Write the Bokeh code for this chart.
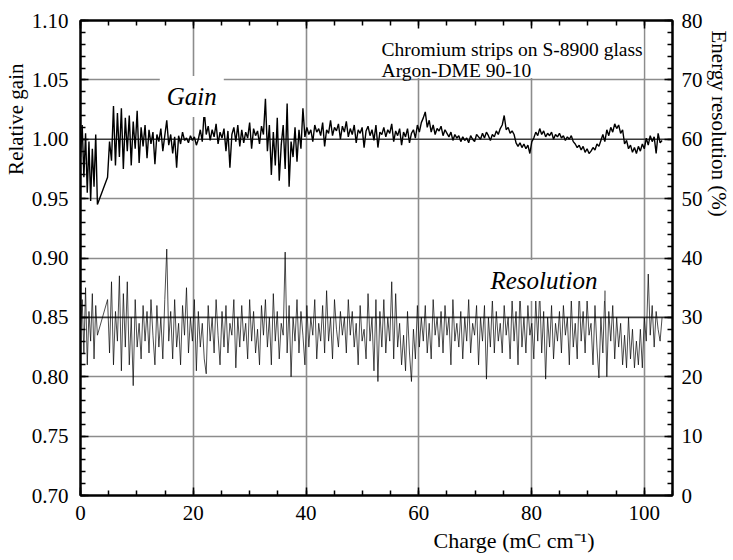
import numpy as np
from bokeh.plotting import figure
from bokeh.models import (Range1d, LinearAxis, FixedTicker, PrintfTickFormatter,
                          CustomJSTickFormatter, Label, BoxAnnotation, Span, Grid, Title)
from bokeh.embed import file_html
from bokeh.resources import INLINE

# ---------------- data ----------------
# first short run of measurements (charge 0 .. 3.0 mC/cm, step 0.3)
run1_start, run1_step = 0.0, 0.3
gain_run1 = [0.985, 1.012, 0.968, 1.005, 0.955, 0.998, 0.948, 0.992, 0.960, 1.004, 0.945]
res_run1 = [28, 33, 24, 35, 22, 31, 26, 34, 23, 32, 27]

# main run (charge 4.8 .. ~103 mC/cm, step 0.35)
run2_start, run2_step = 4.8, 0.35
gain_run2 = [
    0.968, 0.998, 0.982, 1.028, 0.978, 1.022, 0.985, 1.026, 0.975, 1.018,
    0.990, 1.020, 0.978, 1.015, 0.992, 1.024, 0.980, 1.010, 0.994, 1.012,
    0.984, 1.008, 0.996, 1.006, 0.979, 1.004, 0.998, 1.009, 0.990, 1.003,
    1.016, 0.995, 1.004, 0.988, 1.002, 0.976, 1.003, 0.996, 1.006, 0.999,
    1.001, 0.997, 1.003, 0.999, 1.002, 0.995, 1.000, 1.008, 0.998, 1.024,
    1.004, 1.011, 0.999, 1.008, 1.002, 1.013, 0.996, 1.006, 1.001, 1.009,
    0.990, 1.007, 0.976, 1.004, 1.010, 0.998, 1.012, 0.994, 1.008, 0.997,
    1.006, 1.001, 1.014, 0.992, 1.009, 1.003, 1.007, 0.996, 1.011, 1.004,
    1.034, 0.990, 1.012, 0.970, 1.006, 0.978, 1.018, 0.965, 0.995, 1.012,
    0.975, 1.030, 0.960, 0.998, 0.985, 1.010, 0.981, 1.008, 0.992, 1.026,
    1.002, 1.010, 1.004, 1.008, 0.998, 1.012, 1.006, 1.009, 1.003, 1.014,
    0.994, 1.008, 1.005, 1.016, 1.003, 1.010, 1.007, 1.013, 1.000, 1.011,
    1.006, 1.015, 1.002, 1.009, 1.004, 1.012, 0.997, 1.008, 1.005, 1.010,
    0.993, 1.007, 1.011, 1.003, 1.008, 0.999, 1.012, 0.993, 1.006, 1.004,
    1.010, 1.002, 1.008, 1.005, 1.013, 0.998, 1.007, 1.003, 1.009, 0.995,
    1.006, 1.002, 1.009, 0.997, 1.005, 1.008, 1.001, 1.012, 1.006, 1.014,
    1.018, 1.023, 1.010, 1.016, 1.006, 1.012, 1.004, 1.009, 1.007, 1.011,
    1.003, 1.008, 1.005, 1.002, 1.006, 0.999, 1.004, 1.001, 1.003, 0.998,
    1.002, 0.999, 1.001, 0.997, 1.003, 1.000, 0.998, 1.004, 1.002, 1.000,
    1.005, 1.001, 1.006, 1.003, 0.999, 1.004, 1.002, 1.007, 1.004, 1.009,
    1.012, 1.020, 1.008, 1.010, 1.005, 1.007, 1.004, 0.997, 0.994, 0.997,
    0.993, 0.996, 0.992, 0.995, 0.988, 0.998, 1.001, 1.006, 1.003, 1.009,
    1.004, 1.007, 1.002, 1.005, 1.003, 1.006, 1.000, 1.004, 1.002, 1.005,
    1.001, 1.003, 0.999, 1.002, 1.000, 1.003, 0.998, 0.996, 0.993, 0.995,
    0.991, 0.994, 0.989, 0.992, 0.988, 0.990, 0.993, 0.991, 0.996, 0.994,
    0.999, 1.004, 0.998, 1.008, 1.003, 1.010, 1.006, 1.013, 1.009, 1.012,
    1.005, 1.008, 0.996, 0.999, 0.992, 0.995, 0.989, 0.993, 0.988, 0.994,
    0.990, 0.996, 0.992, 1.001, 0.995, 1.003, 0.998, 1.002, 0.988, 1.005,
    0.997, 0.999,
]
res_run2 = [
    33, 24, 36, 22, 31, 26, 37, 21, 34, 25,
    36, 22, 30, 18.5, 33, 25, 29, 23, 32, 26,
    31, 24, 33, 27, 22, 32, 25, 30, 23, 33,
    41.5, 26, 31, 23, 33, 25, 29, 22, 32, 27,
    35, 24, 30, 26, 33, 21, 31, 25, 29, 23,
    20.5, 32, 26, 30, 24, 33, 27, 22, 31, 25,
    32, 24, 29, 27, 33, 21.5, 30, 25, 32, 26,
    29, 23, 33, 26, 31, 24, 28, 22, 32, 27,
    33, 25, 30, 22, 34, 26, 31, 23, 29, 27,
    41, 24, 32, 20, 30, 26, 33, 24, 31, 27,
    22, 32, 25, 30, 27, 33, 23, 29, 26, 32,
    24, 34.5, 26, 30, 23, 33, 28, 25, 31, 27,
    30, 24, 33, 27, 31, 25, 29, 22, 32, 26,
    28, 23, 34, 26, 30, 21, 33, 19.2, 31, 25,
    33, 24, 30, 26, 36, 23, 34, 25, 29, 22,
    27, 21, 31, 24, 19.2, 28, 23, 32, 25, 30,
    26, 32, 24, 29, 23, 33, 27, 30, 25, 31,
    24, 32, 27, 30, 22, 33, 26, 29, 25, 31,
    23, 30, 26, 33, 24, 29, 27, 32, 22, 30,
    26, 32, 19.6, 30, 25, 33, 24, 31, 26, 29,
    24, 32, 27, 30, 23, 33, 26, 31, 22, 34.5,
    25, 30, 24, 32, 27, 29, 23, 33, 26, 34.5,
    24, 31, 19.6, 30, 25, 32, 23, 29, 26, 31,
    24, 32, 27, 30, 22, 33, 25, 29, 23, 34.5,
    26, 31, 24, 33, 27, 29, 22, 32, 25, 19.8,
    30, 24, 34.5, 20, 31, 26, 32, 23, 30, 25,
    29, 22, 27, 21.5, 30, 23, 28, 21.5, 26, 22,
    28, 21.5, 30, 26, 37.3, 27, 32, 25, 31, 28,
    26, 30,
]

def charges(start, step, n):
    return [start + step * i for i in range(n)]

gain_x = charges(run1_start, run1_step, len(gain_run1)) + charges(run2_start, run2_step, len(gain_run2))
gain_y = gain_run1 + gain_run2
res_x = charges(run1_start, run1_step, len(res_run1)) + charges(run2_start, run2_step, len(res_run2))
res_y = res_run1 + res_run2

x_major = [0, 20, 40, 60, 80, 100]
gain_major = [0.70, 0.75, 0.80, 0.85, 0.90, 0.95, 1.00, 1.05, 1.10]
res_major = [0, 10, 20, 30, 40, 50, 60, 70, 80]

FONT = "Liberation Serif"

# ---------------- figure ----------------
p = figure(width=733, height=560, output_backend="svg", toolbar_location=None,
           x_range=Range1d(0, 105), y_range=Range1d(0.70, 1.10),
           x_axis_type=None, y_axis_type=None,
           min_border_left=80, min_border_right=59, min_border_top=20, min_border_bottom=65)
p.extra_y_ranges = {"res": Range1d(0, 80)}
p.background_fill_color = "white"
p.border_fill_color = "white"
p.outline_line_color = "black"
p.outline_line_width = 2

# grids
p.add_layout(Grid(dimension=0, ticker=FixedTicker(ticks=[20, 40, 60, 80, 100]),
                  grid_line_color="#8c8c8c", grid_line_width=1.6))
p.add_layout(Grid(dimension=1, ticker=FixedTicker(ticks=[0.75, 0.80, 0.90, 0.95, 1.05]),
                  grid_line_color="#8c8c8c", grid_line_width=1.6))
p.add_layout(Span(location=1.00, dimension="width", line_color="#3a3a3a", line_width=1.6, level="underlay"))
p.add_layout(Span(location=0.85, dimension="width", line_color="#3a3a3a", line_width=1.6, level="underlay"))

# white box behind annotation text
p.add_layout(BoxAnnotation(left=40.6, right=99.85, top=1.10, bottom=1.0515,
                           fill_color="white", fill_alpha=1.0, line_color=None, level="underlay"))

def style(ax, show_labels=True, standoff=10):
    ax.axis_line_color = "black"
    ax.axis_line_width = 2
    ax.major_tick_in = 8
    ax.major_tick_out = 0
    ax.minor_tick_in = 5
    ax.minor_tick_out = 0
    ax.major_tick_line_color = "black"
    ax.minor_tick_line_color = "black"
    ax.major_tick_line_width = 1.5
    ax.minor_tick_line_width = 1.5
    ax.major_label_text_font = FONT
    ax.major_label_text_font_size = "21px"
    ax.major_label_text_color = "black"
    ax.major_label_standoff = standoff
    if not show_labels:
        ax.formatter = CustomJSTickFormatter(code="return ''")

x_minor = [5 * k for k in range(22)]
left = LinearAxis(ticker=FixedTicker(ticks=gain_major, minor_ticks=[round(0.70 + 0.01 * k, 2) for k in range(41)]),
                  formatter=PrintfTickFormatter(format="%.2f"))
style(left, standoff=12)
right = LinearAxis(y_range_name="res",
                   ticker=FixedTicker(ticks=res_major, minor_ticks=[2 * k for k in range(41)]))
style(right, standoff=9)
bottom = LinearAxis(ticker=FixedTicker(ticks=x_major, minor_ticks=x_minor))
style(bottom, standoff=10)
top = LinearAxis(ticker=FixedTicker(ticks=x_major, minor_ticks=x_minor))
style(top, show_labels=False)
top.major_label_text_font_size = "1px"
top.major_label_standoff = 0

p.add_layout(left, "left")
p.add_layout(right, "right")
p.add_layout(bottom, "below")
p.add_layout(top, "above")

# axis titles as side-panel titles (so they can sit off-centre like the original)
def side_title(text, size, align, offset, standoff=2):
    return Title(text=text, text_font=FONT, text_font_size=size, text_font_style="normal",
                 text_color="black", align=align, offset=offset, standoff=standoff)

p.add_layout(side_title("Relative gain", "21px", "right", 43), "left")
p.add_layout(side_title("Energy resolution (%)", "21px", "left", 10), "right")
p.add_layout(side_title("Charge (mC cm\u207b\u00b9)", "22px", "left", 353, standoff=6), "below")

# data lines
p.line(res_x, res_y, y_range_name="res", line_color="black", line_width=0.7)
p.line(gain_x, gain_y, line_color="black", line_width=1.4)

# in-plot texts
p.add_layout(Label(x=19.74, y=1.036, text="Gain", text_font=FONT, text_font_size="25px",
                   text_font_style="italic", text_color="black", text_align="center",
                   text_baseline="alphabetic", background_fill_color="white", padding=7))
p.add_layout(Label(x=82.2, y=0.8811, text="Resolution", text_font=FONT, text_font_size="25px",
                   text_font_style="italic", text_color="black", text_align="center",
                   text_baseline="alphabetic", background_fill_color="white", padding=7))
p.add_layout(Label(x=53.4, y=1.0753, text="Chromium strips on S-8900 glass", text_font=FONT,
                   text_font_size="19.5px", text_color="black", text_align="left",
                   text_baseline="alphabetic"))
p.add_layout(Label(x=53.4, y=1.0579, text="Argon-DME 90-10", text_font=FONT,
                   text_font_size="19.5px", text_color="black", text_align="left",
                   text_baseline="alphabetic"))

open("out.html", "w").write(file_html(p, INLINE))
